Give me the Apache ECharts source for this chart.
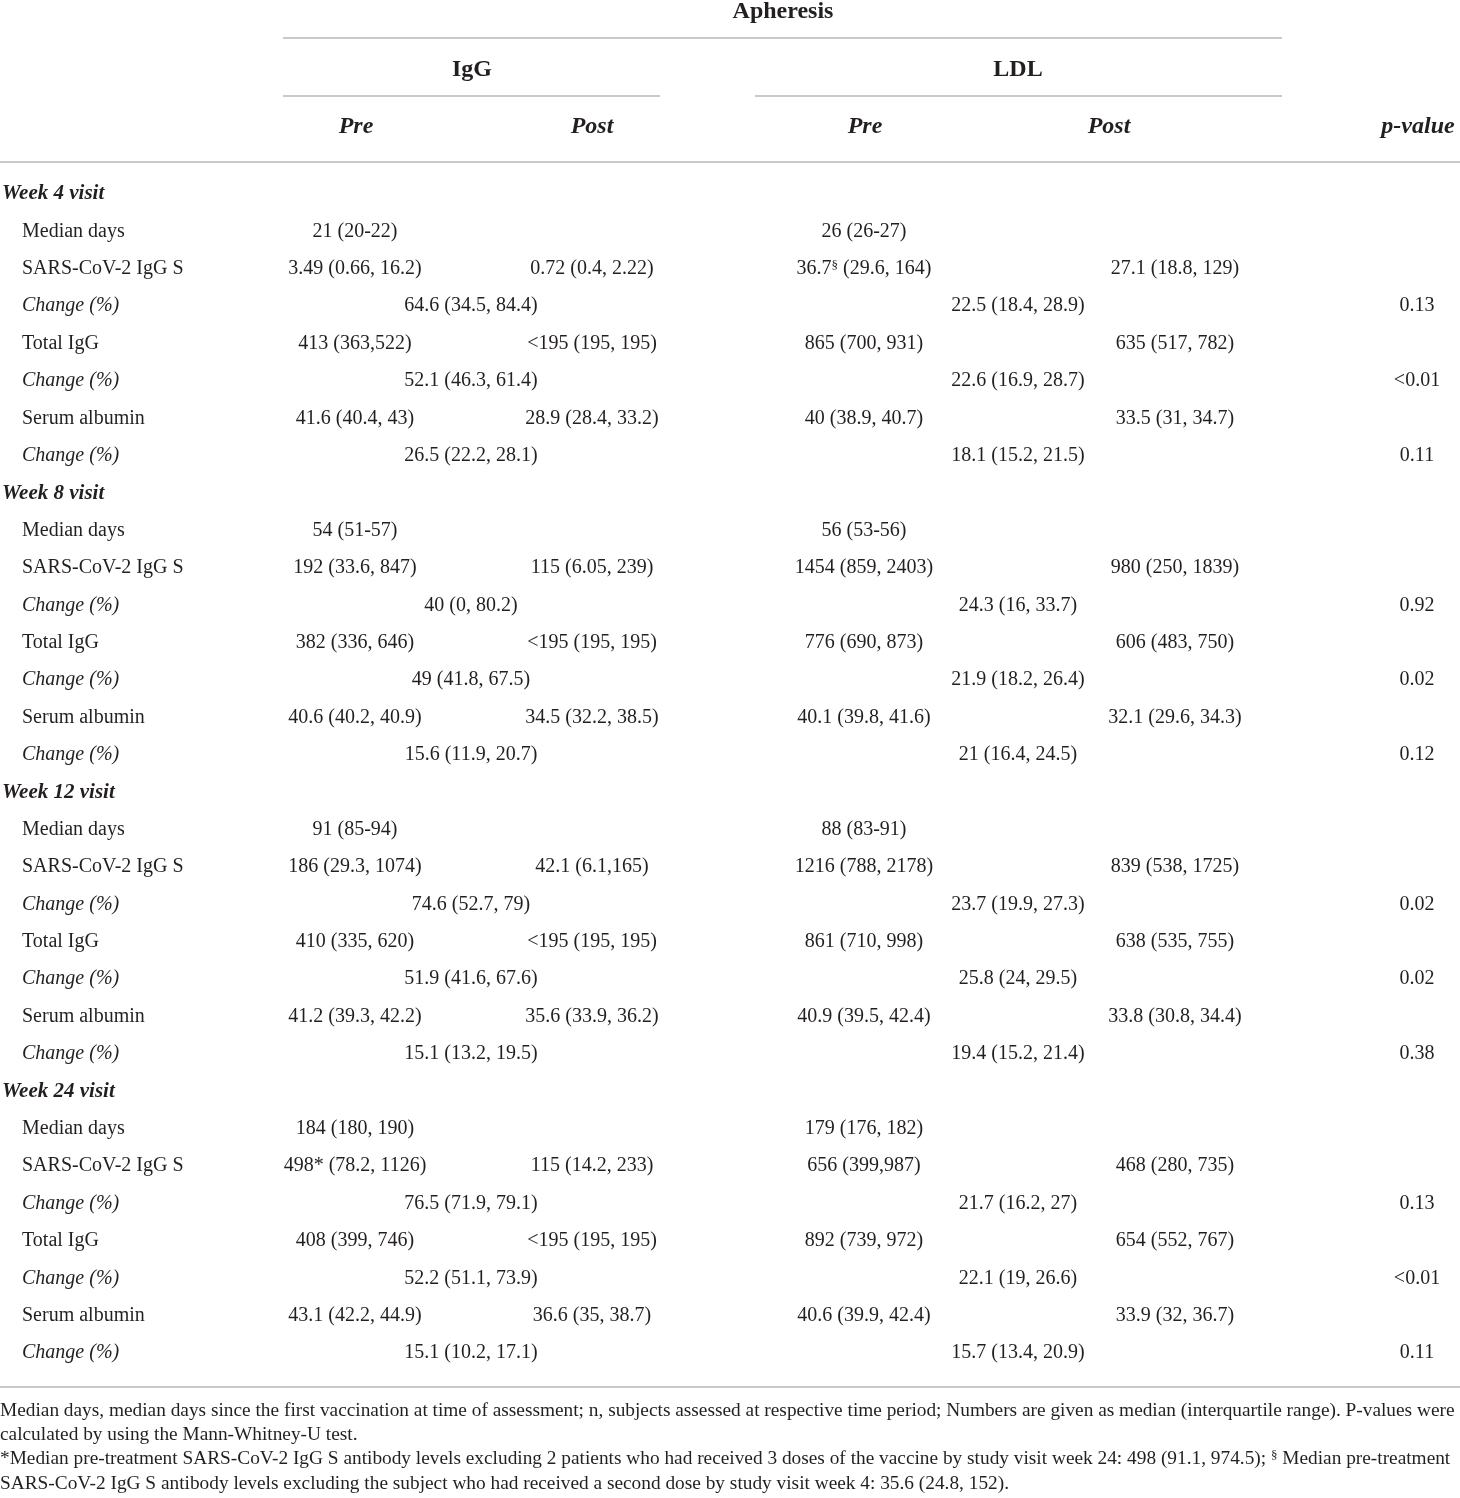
<!DOCTYPE html>
<html>
<head>
<meta charset="utf-8">
<script src="https://cdn.jsdelivr.net/npm/echarts@6/dist/echarts.min.js"></script>
<style>
  html, body { margin: 0; padding: 0; background: #ffffff; }
  #chart { width: 1460px; height: 1498px; }
</style>
</head>
<body>
<div id="chart"></div>
<script>
// ---------------- DATA ----------------
const groupTitle = 'Apheresis';
const methodLabels = ['IgG', 'LDL'];
const phaseLabels = ['Pre', 'Post'];
const pValueLabel = 'p-value';

const weeks = ['Week 4 visit', 'Week 8 visit', 'Week 12 visit', 'Week 24 visit'];
const medianDaysLabel = 'Median days';
const measureLabels = ['SARS-CoV-2 IgG S', 'Total IgG', 'Serum albumin'];
const changeLabel = 'Change (%)';

const medianDaysIgG = ['21 (20-22)', '54 (51-57)', '91 (85-94)', '184 (180, 190)'];
const medianDaysLDL = ['26 (26-27)', '56 (53-56)', '88 (83-91)', '179 (176, 182)'];

const iggPre = [
  ['3.49 (0.66, 16.2)', '413 (363,522)', '41.6 (40.4, 43)'],
  ['192 (33.6, 847)', '382 (336, 646)', '40.6 (40.2, 40.9)'],
  ['186 (29.3, 1074)', '410 (335, 620)', '41.2 (39.3, 42.2)'],
  ['498* (78.2, 1126)', '408 (399, 746)', '43.1 (42.2, 44.9)']
];
const iggPost = [
  ['0.72 (0.4, 2.22)', '<195 (195, 195)', '28.9 (28.4, 33.2)'],
  ['115 (6.05, 239)', '<195 (195, 195)', '34.5 (32.2, 38.5)'],
  ['42.1 (6.1,165)', '<195 (195, 195)', '35.6 (33.9, 36.2)'],
  ['115 (14.2, 233)', '<195 (195, 195)', '36.6 (35, 38.7)']
];
const iggChange = [
  ['64.6 (34.5, 84.4)', '52.1 (46.3, 61.4)', '26.5 (22.2, 28.1)'],
  ['40 (0, 80.2)', '49 (41.8, 67.5)', '15.6 (11.9, 20.7)'],
  ['74.6 (52.7, 79)', '51.9 (41.6, 67.6)', '15.1 (13.2, 19.5)'],
  ['76.5 (71.9, 79.1)', '52.2 (51.1, 73.9)', '15.1 (10.2, 17.1)']
];
const ldlPre = [
  ['36.7§ (29.6, 164)', '865 (700, 931)', '40 (38.9, 40.7)'],
  ['1454 (859, 2403)', '776 (690, 873)', '40.1 (39.8, 41.6)'],
  ['1216 (788, 2178)', '861 (710, 998)', '40.9 (39.5, 42.4)'],
  ['656 (399,987)', '892 (739, 972)', '40.6 (39.9, 42.4)']
];
const ldlPost = [
  ['27.1 (18.8, 129)', '635 (517, 782)', '33.5 (31, 34.7)'],
  ['980 (250, 1839)', '606 (483, 750)', '32.1 (29.6, 34.3)'],
  ['839 (538, 1725)', '638 (535, 755)', '33.8 (30.8, 34.4)'],
  ['468 (280, 735)', '654 (552, 767)', '33.9 (32, 36.7)']
];
const ldlChange = [
  ['22.5 (18.4, 28.9)', '22.6 (16.9, 28.7)', '18.1 (15.2, 21.5)'],
  ['24.3 (16, 33.7)', '21.9 (18.2, 26.4)', '21 (16.4, 24.5)'],
  ['23.7 (19.9, 27.3)', '25.8 (24, 29.5)', '19.4 (15.2, 21.4)'],
  ['21.7 (16.2, 27)', '22.1 (19, 26.6)', '15.7 (13.4, 20.9)']
];
const pValues = [
  ['0.13', '<0.01', '0.11'],
  ['0.92', '0.02', '0.12'],
  ['0.02', '0.02', '0.38'],
  ['0.13', '<0.01', '0.11']
];

const footnoteLines = [
  'Median days, median days since the first vaccination at time of assessment; n, subjects assessed at respective time period; Numbers are given as median (interquartile range). P-values were',
  'calculated by using the Mann-Whitney-U test.',
  '*Median pre-treatment SARS-CoV-2 IgG S antibody levels excluding 2 patients who had received 3 doses of the vaccine by study visit week 24: 498 (91.1, 974.5); § Median pre-treatment',
  'SARS-CoV-2 IgG S antibody levels excluding the subject who had received a second dose by study visit week 4: 35.6 (24.8, 152).'
];

// ---------------- LAYOUT / STYLE ----------------
const W = 1460;
const COLOR = '#231f20';
const RULE = '#c9c9c9';
const SERIF = '"Liberation Serif", "DejaVu Serif", serif';
const BODY = 20;
const HEAD = 24;

const col = {
  label: 22, heading: 2,
  igPre: 355, igPost: 592, igChg: 471,
  ldlPre: 864, ldlPost: 1175, ldlChg: 1018,
  p: 1417
};
const rowTop = 194;
const rowPitch = 37.39;

const rich = { sup: { fontSize: 13, fontFamily: SERIF, fill: COLOR, verticalAlign: 'top', padding: [0, 0, 6, 0] } };
function rt(s) { return s.replace('§', '{sup|§}'); }

const els = [];
function text(x, y, s, opts) {
  opts = opts || {};
  els.push({
    type: 'text', x: x, y: y, silent: true,
    style: {
      text: rt(s), fill: COLOR,
      fontFamily: SERIF,
      fontSize: opts.size || BODY,
      fontWeight: opts.bold ? 'bold' : 'normal',
      fontStyle: opts.italic ? 'italic' : 'normal',
      align: opts.align || 'center',
      verticalAlign: 'middle',
      rich: rich
    }
  });
}
function hline(x1, x2, y) {
  els.push({ type: 'line', silent: true, shape: { x1: x1, y1: y, x2: x2, y2: y }, style: { stroke: RULE, lineWidth: 2 } });
}

// header
text(783, 12, groupTitle, { bold: true, size: HEAD });
hline(283, 1282, 38);
text(472, 70, methodLabels[0], { bold: true, size: HEAD });
text(1018, 70, methodLabels[1], { bold: true, size: HEAD });
hline(283, 660, 96);
hline(755, 1282, 96);
text(356, 127, phaseLabels[0], { bold: true, italic: true, size: HEAD });
text(592, 127, phaseLabels[1], { bold: true, italic: true, size: HEAD });
text(865, 127, phaseLabels[0], { bold: true, italic: true, size: HEAD });
text(1109, 127, phaseLabels[1], { bold: true, italic: true, size: HEAD });
text(1418, 127, pValueLabel, { bold: true, italic: true, size: HEAD });
hline(0, W, 162);

// body
weeks.forEach(function (wk, w) {
  const base = w * 8;
  const y = function (r) { return rowTop + (base + r) * rowPitch; };
  text(col.heading, y(0), wk, { bold: true, italic: true, align: 'left', size: 21 });
  text(col.label, y(1), medianDaysLabel, { align: 'left' });
  text(col.igPre, y(1), medianDaysIgG[w]);
  text(col.ldlPre, y(1), medianDaysLDL[w]);
  measureLabels.forEach(function (m, k) {
    const rv = 2 + 2 * k, rc = 3 + 2 * k;
    text(col.label, y(rv), m, { align: 'left' });
    text(col.igPre, y(rv), iggPre[w][k]);
    text(col.igPost, y(rv), iggPost[w][k]);
    text(col.ldlPre, y(rv), ldlPre[w][k]);
    text(col.ldlPost, y(rv), ldlPost[w][k]);
    text(col.label, y(rc), changeLabel, { align: 'left', italic: true });
    text(col.igChg, y(rc), iggChange[w][k]);
    text(col.ldlChg, y(rc), ldlChange[w][k]);
    text(col.p, y(rc), pValues[w][k]);
  });
});
hline(0, W, 1387);

// footnotes: size fitted so the first line spans the page width
const cv = document.createElement('canvas').getContext('2d');
cv.font = '100px ' + SERIF;
const FOOT = 100 * 1456 / cv.measureText(footnoteLines[0]).width;
const footY = [1411, 1435, 1459, 1484];
footnoteLines.forEach(function (s, i) {
  text(0, footY[i], s, { align: 'left', size: FOOT });
});

const chart = echarts.init(document.getElementById('chart'), null, { renderer: 'canvas', width: 1460, height: 1498 });
chart.setOption({
  backgroundColor: '#ffffff',
  animation: false,
  graphic: { elements: els }
});
</script>
</body>
</html>
